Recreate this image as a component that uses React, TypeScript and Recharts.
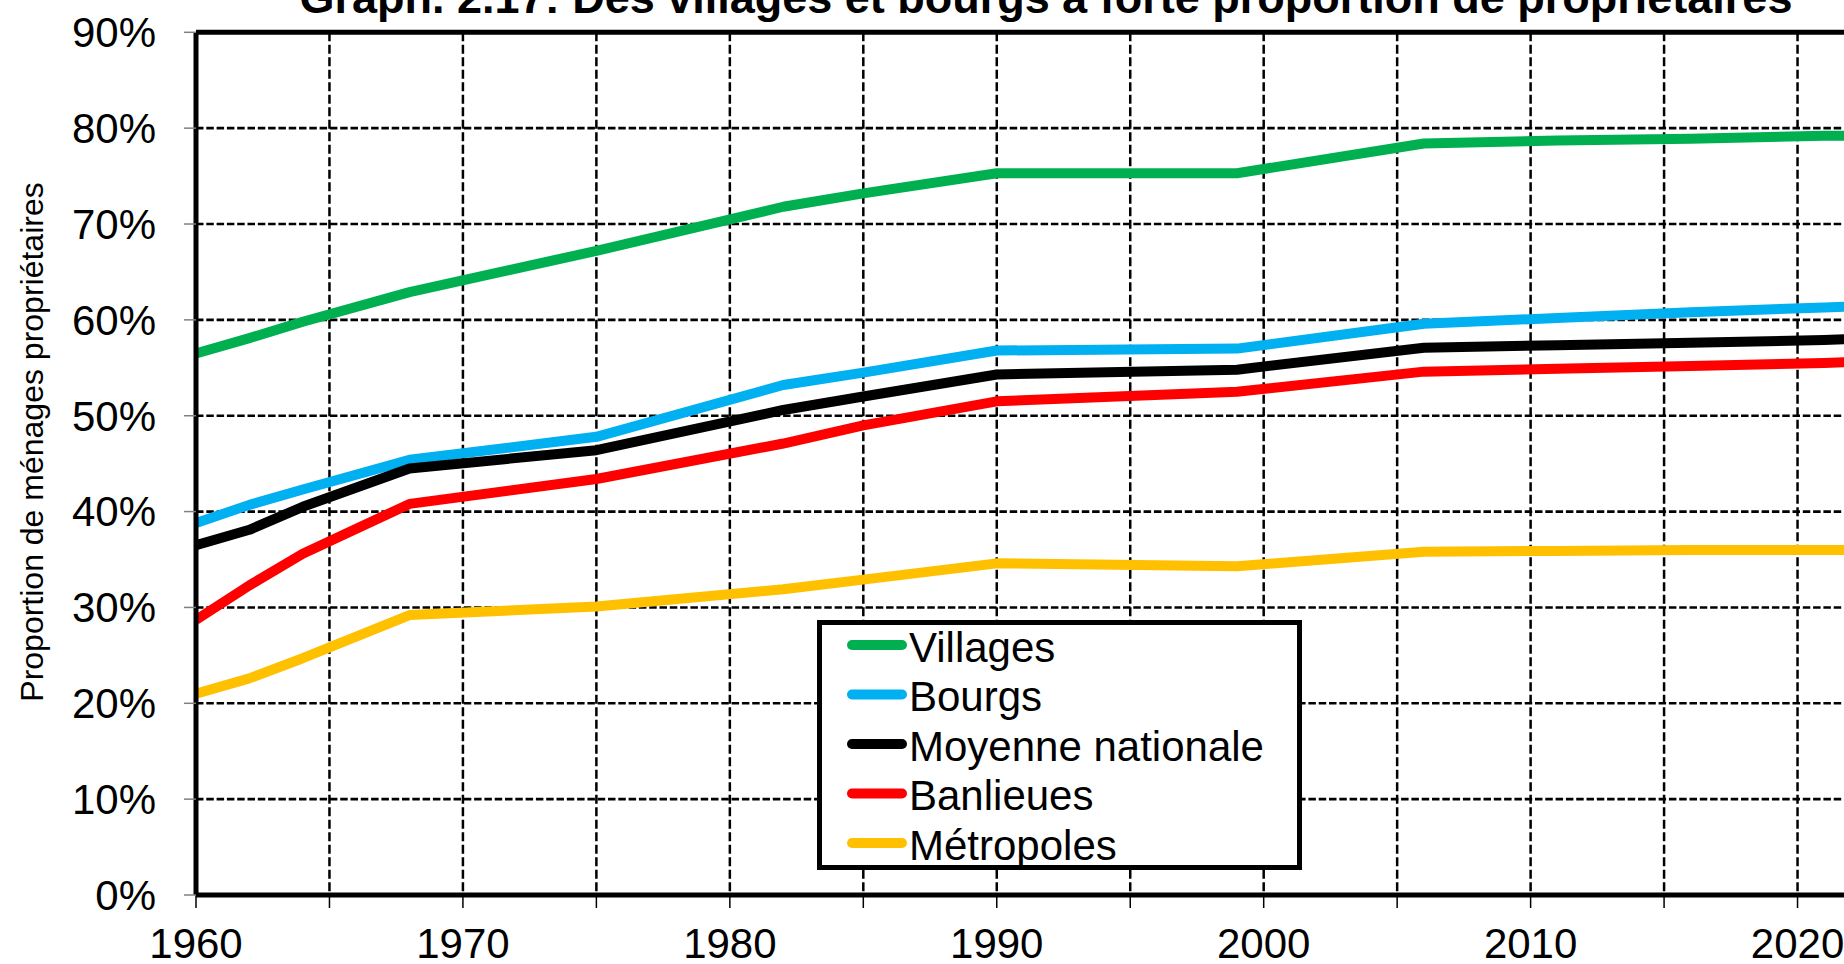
import React from 'react';
import { LineChart, Line, XAxis, YAxis, CartesianGrid, ReferenceLine, Legend } from 'recharts';

const years = [1960, 1962, 1964, 1968, 1975, 1982, 1985, 1990, 1999, 2006, 2011, 2016, 2021, 2022];
const villages = [56.5, 58.1, 59.8, 62.9, 67.2, 71.8, 73.2, 75.3, 75.3, 78.4, 78.7, 78.9, 79.2, 79.2];
const bourgs = [38.8, 40.7, 42.3, 45.4, 47.8, 53.2, 54.5, 56.8, 57.0, 59.6, 60.2, 60.8, 61.3, 61.4];
const moyenne = [36.5, 38.1, 40.5, 44.5, 46.4, 50.6, 52.0, 54.3, 54.8, 57.1, 57.35, 57.6, 57.9, 58.0];
const banlieues = [28.7, 32.3, 35.6, 40.8, 43.4, 47.1, 49.0, 51.5, 52.5, 54.6, 54.9, 55.2, 55.5, 55.6];
const metropoles = [21.0, 22.6, 24.7, 29.2, 30.1, 31.9, 32.9, 34.6, 34.3, 35.8, 35.9, 36.0, 36.0, 36.0];

const xTicks = [1960, 1965, 1970, 1975, 1980, 1985, 1990, 1995, 2000, 2005, 2010, 2015, 2020, 2025];
const yTicks = [0, 10, 20, 30, 40, 50, 60, 70, 80, 90];

const title = 'Graph. 2.17: Des villages et bourgs à forte proportion de propriétaires';
const yLabel = 'Proportion de ménages propriétaires';

const series = [
  { key: 'villages', name: 'Villages', color: '#00B050' },
  { key: 'bourgs', name: 'Bourgs', color: '#00B0F0' },
  { key: 'moyenne', name: 'Moyenne nationale', color: '#000000' },
  { key: 'banlieues', name: 'Banlieues', color: '#FF0000' },
  { key: 'metropoles', name: 'Métropoles', color: '#FFC000' },
];

const data = years.map((year, i) => ({
  year,
  villages: villages[i],
  bourgs: bourgs[i],
  moyenne: moyenne[i],
  banlieues: banlieues[i],
  metropoles: metropoles[i],
}));

const FONT = '"Liberation Sans", Arial, sans-serif';

const LegendBox = () => (
  <svg width={485} height={250} style={{ display: 'block' }}>
    <rect x={2.5} y={2.5} width={480} height={245} fill="#fff" stroke="#000" strokeWidth={5} />
    {series.map((s, i) => {
      const cy = 25 + 49.5 * i;
      return (
        <g key={s.key}>
          <line x1={35} x2={85} y1={cy} y2={cy} stroke={s.color} strokeWidth={10} strokeLinecap="round" />
          <text x={92} y={cy + 16.5} fontSize={42} fontFamily={FONT} fill="#000">{s.name}</text>
        </g>
      );
    })}
  </svg>
);

export default function App() {
  return (
    <div style={{ position: 'absolute', left: 0, top: 0, width: 1844, height: 964, overflow: 'hidden', background: '#fff' }}>
      <LineChart
        width={1931}
        height={964}
        data={data}
        margin={{ top: 32.3, right: 0, bottom: 0, left: 0 }}
      >
        <CartesianGrid vertical={false} stroke="#000" strokeWidth={2.6} strokeDasharray="7.5 2.8" />
        <CartesianGrid horizontal={false} stroke="#000" strokeWidth={2.5} strokeDasharray="9 3.5" />
        <XAxis
          dataKey="year"
          type="number"
          domain={[1960, 2025]}
          ticks={xTicks}
          interval={0}
          height={69}
          tickSize={13}
          tickMargin={20}
          tickFormatter={(v: number) => (v % 10 === 0 ? String(v) : '')}
          axisLine={{ stroke: '#000', strokeWidth: 5 }}
          tickLine={{ stroke: '#000', strokeWidth: 1.5 }}
          tick={{ fill: '#000', fontSize: 42, fontFamily: FONT }}
          allowDataOverflow
        />
        <YAxis
          type="number"
          domain={[0, 90]}
          ticks={yTicks}
          interval={0}
          width={196}
          tickSize={12}
          tickMargin={28}
          tickFormatter={(v: number) => `${v}%`}
          axisLine={{ stroke: '#000', strokeWidth: 5 }}
          tickLine={{ stroke: '#808080', strokeWidth: 1.5 }}
          tick={{ fill: '#000', fontSize: 42, fontFamily: FONT }}
        />
        <ReferenceLine y={90} stroke="#000" strokeWidth={5} />
        {series.map((s) => (
          <Line
            key={s.key}
            type="linear"
            dataKey={s.key}
            name={s.name}
            stroke={s.color}
            strokeWidth={10}
            strokeLinejoin="round"
            dot={false}
            activeDot={false}
            isAnimationActive={false}
          />
        ))}
        <Legend
          layout="horizontal"
          verticalAlign="middle"
          align="center"
          content={() => <LegendBox />}
          wrapperStyle={{ position: 'absolute', left: 817, top: 620, width: 485, height: 250, margin: 0 }}
        />
      </LineChart>
      <svg width={1844} height={964} style={{ position: 'absolute', left: 0, top: 0, pointerEvents: 'none' }}>
        <text x={1046} y={13} textAnchor="middle" fontSize={45} fontWeight="bold" fontFamily={FONT} fill="#000">
          {title}
        </text>
        <text
          transform="translate(43,442) rotate(-90)"
          textAnchor="middle"
          fontSize={32}
          fontFamily={FONT}
          fill="#000"
        >
          {yLabel}
        </text>
      </svg>
    </div>
  );
}
